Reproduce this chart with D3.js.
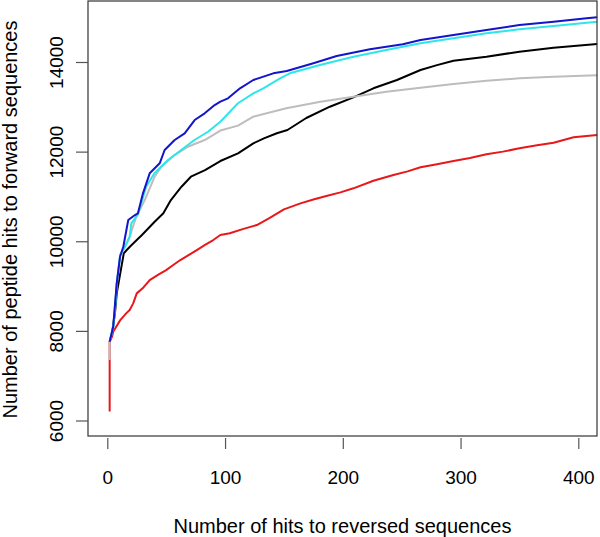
<!DOCTYPE html>
<html>
<head>
<meta charset="utf-8">
<script src="https://cdn.jsdelivr.net/npm/d3@7"></script>
<style>
  html, body { margin: 0; padding: 0; background: #fff; }
  svg { display: block; }
  text { font-family: "Liberation Sans", Arial, sans-serif; fill: #000; }
</style>
</head>
<body>
<svg id="chart" width="600" height="537"></svg>
<script>
// ---- data ----
const xTicks = [0, 100, 200, 300, 400];
const yTicks = [6000, 8000, 10000, 12000, 14000];
const xLabel = "Number of hits to reversed sequences";
const yLabel = "Number of peptide hits to forward sequences";

const blackX = [2, 4, 6.5, 8, 11, 14, 16.5, 20, 25, 29, 33.5, 40, 47.6, 54, 63, 71, 83, 96, 111, 124, 133, 144, 153, 169, 189, 209, 226, 246, 266, 280, 294, 322, 350, 379, 416];
const blackY = [7757, 7944, 8391, 8837, 9284, 9730, 9804, 9900, 10027, 10130, 10250, 10430, 10623, 10920, 11217, 11440, 11589, 11790, 11962, 12185, 12297, 12409, 12482, 12750, 13002, 13212, 13413, 13598, 13821, 13930, 14029, 14118, 14230, 14319, 14402];

const redX = [2, 2, 3, 4, 5, 11, 16, 19, 22, 25, 30, 36, 43, 50, 56, 62, 69, 76, 83, 90, 96, 104, 115, 127, 138, 150, 164, 175, 186, 198, 209, 226, 243, 255, 266, 280, 294, 308, 322, 336, 350, 365, 379, 396, 416];
const redY = [6200, 7750, 7820, 7870, 7980, 8240, 8390, 8465, 8614, 8837, 8950, 9134, 9250, 9357, 9470, 9581, 9690, 9804, 9920, 10027, 10139, 10177, 10270, 10362, 10520, 10712, 10846, 10930, 11009, 11090, 11181, 11351, 11478, 11560, 11650, 11720, 11790, 11860, 11940, 12000, 12074, 12140, 12199, 12319, 12371];

const grayX = [2, 2, 5, 8, 11, 15, 19, 24.6, 31.8, 40.2, 45.9, 57.2, 68.5, 82.7, 96, 111, 124, 152, 181, 209, 237, 266, 294, 322, 350, 379, 416];
const grayY = [7350, 7757, 8092, 9000, 9700, 9870, 10100, 10547, 10920, 11440, 11663, 11924, 12109, 12259, 12470, 12580, 12779, 12966, 13114, 13226, 13337, 13426, 13509, 13583, 13636, 13672, 13703];

const cyanX = [2, 5, 6.5, 8, 11, 15, 19, 20.4, 26, 33, 40, 51.5, 62.8, 74, 85.5, 96, 111, 124, 132.5, 146.7, 155, 180.6, 209, 237, 266, 294, 322, 350, 379, 416];
const cyanY = [7757, 8092, 8465, 9061, 9700, 9878, 10101, 10400, 10600, 11217, 11516, 11813, 12036, 12259, 12444, 12668, 13080, 13300, 13413, 13636, 13747, 13933, 14118, 14268, 14417, 14529, 14640, 14730, 14804, 14900];

const blueX = [2, 5, 8, 10.8, 13.6, 17.8, 23.5, 26, 30.3, 36, 44.5, 48.7, 57.2, 65.7, 74.2, 82.7, 91.2, 96, 102.5, 112.7, 124, 141, 152.4, 175, 194.8, 223, 251, 266, 294, 322, 350, 379, 407, 416];
const blueY = [7757, 8092, 9061, 9654, 9878, 10473, 10585, 10623, 11069, 11516, 11739, 12036, 12259, 12409, 12705, 12855, 13040, 13114, 13190, 13413, 13598, 13747, 13799, 13971, 14134, 14283, 14395, 14491, 14603, 14714, 14826, 14900, 14975, 14998];

const series = [
  { x: blackX, y: blackY, color: "#000000" },
  { x: redX, y: redY, color: "#e8181a" },
  { x: grayX, y: grayY, color: "#bdbdbd" },
  { x: cyanX, y: cyanY, color: "#2ee6ea" },
  { x: blueX, y: blueY, color: "#1414cc" }
];

// ---- layout ----
const box = { left: 88, right: 597, top: 1, bottom: 436 };
const svg = d3.select("#chart");
const x = d3.scaleLinear().domain([0, 400]).range([107.3, 578.3]);
const y = d3.scaleLinear().domain([6000, 14000]).range([420.5, 62]);

// lines
const line = d3.line().x(d => x(d[0])).y(d => y(d[1]));
series.forEach(s => {
  const pts = s.x.map((v, i) => [v, s.y[i]]);
  svg.append("path")
    .attr("d", line(pts))
    .attr("fill", "none")
    .attr("stroke", s.color)
    .attr("stroke-width", 2)
    .attr("stroke-linejoin", "round");
});

// box
svg.append("rect")
  .attr("x", box.left).attr("y", box.top)
  .attr("width", box.right - box.left).attr("height", box.bottom - box.top)
  .attr("fill", "none").attr("stroke", "#333").attr("stroke-width", 1.2);

// x axis ticks
const xAxis = d3.axisBottom(x).tickValues(xTicks).tickSize(11).tickPadding(22).tickFormat(d3.format("d"));
const gx = svg.append("g").attr("transform", `translate(0,${box.bottom + 2})`).call(xAxis);
gx.select(".domain").remove();
gx.selectAll(".tick line").attr("stroke", "#555").attr("stroke-width", 1.2);
gx.selectAll(".tick text").attr("font-size", 19).attr("fill", "#000")
  .attr("font-family", "'Liberation Sans', Arial, sans-serif");

// y axis ticks
const yAxis = d3.axisLeft(y).tickValues(yTicks).tickSize(12).tickPadding(0).tickFormat(d3.format("d"));
const gy = svg.append("g").attr("transform", `translate(${box.left},0)`).call(yAxis);
gy.select(".domain").remove();
gy.selectAll(".tick line").attr("stroke", "#555").attr("stroke-width", 1.2);
gy.selectAll(".tick text")
  .attr("font-size", 19).attr("fill", "#000")
  .attr("font-family", "'Liberation Sans', Arial, sans-serif")
  .attr("x", null).attr("dy", null)
  .attr("text-anchor", "middle")
  .attr("transform", `translate(${63 - box.left},0) rotate(-90)`);

// axis titles
svg.append("text")
  .attr("x", (box.left + box.right) / 2).attr("y", 532.5)
  .attr("text-anchor", "middle").attr("font-size", 20)
  .text(xLabel);
svg.append("text")
  .attr("transform", `translate(17,219.5) rotate(-90)`)
  .attr("text-anchor", "middle").attr("font-size", 20)
  .text(yLabel);
</script>
</body>
</html>
